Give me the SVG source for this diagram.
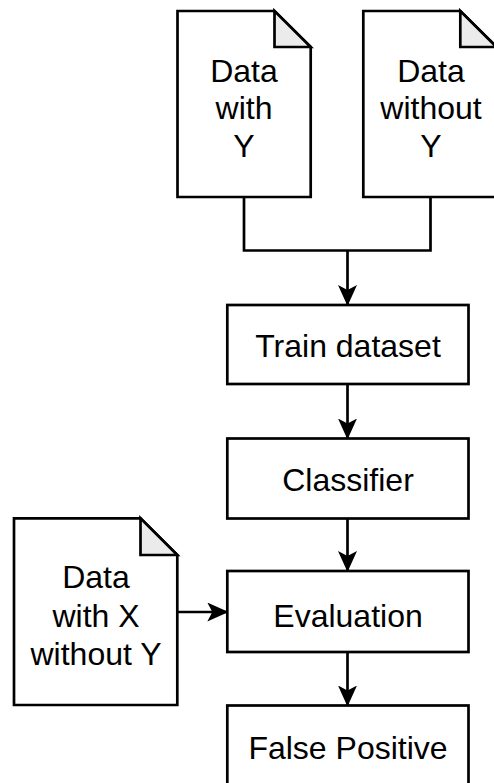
<svg xmlns="http://www.w3.org/2000/svg" width="494" height="783" viewBox="0 0 494 783">
  <style>
    .shape { fill: #ffffff; stroke: #000000; stroke-width: 2.7; stroke-linejoin: miter; }
    .fold { fill: #ebebeb; stroke: #000000; stroke-width: 2.7; stroke-linejoin: miter; }
    .edge { fill: none; stroke: #000000; stroke-width: 2.7; }
    .label { font-family: "Liberation Sans", Arial, Helvetica, sans-serif; font-size: 32px; fill: #000000; text-anchor: middle; }
  </style>
  <defs>
    <marker id="arrow" markerUnits="userSpaceOnUse" viewBox="0 0 21 19" refX="20" refY="9.5" markerWidth="21" markerHeight="19" orient="auto">
      <path d="M0,0 L21,9.5 L0,19 L5,9.5 Z" fill="#000000" stroke="none"/>
    </marker>
  </defs>
  <rect width="494" height="783" fill="#ffffff"/>

  <g id="connectors">
    <path class="edge" d="M244,197 V250.5 H430.5 V197"/>
    <path class="edge" d="M347.5,250.5 V305" marker-end="url(#arrow)"/>
    <path class="edge" d="M347.5,384 V438.5" marker-end="url(#arrow)"/>
    <path class="edge" d="M347.5,518.5 V571" marker-end="url(#arrow)"/>
    <path class="edge" d="M347.5,652 V705.5" marker-end="url(#arrow)"/>
    <path class="edge" d="M177.3,612 H227.3" marker-end="url(#arrow)"/>
  </g>

  <g id="data-with-y">
    <path class="shape" d="M177.5,11 H274.5 L310.7,47 V197 H177.5 Z"/>
    <path class="fold" d="M274.5,11 V47 H310.7 Z"/>
    <text class="label" x="244" y="81.5">Data</text>
    <text class="label" x="244" y="119">with</text>
    <text class="label" x="244" y="157">Y</text>
  </g>

  <g id="data-without-y">
    <path class="shape" d="M363.3,11 H460.3 L496.5,47 V197 H363.3 Z"/>
    <path class="fold" d="M460.3,11 V47 H496.5 Z"/>
    <text class="label" x="431" y="81.5">Data</text>
    <text class="label" x="431" y="119">without</text>
    <text class="label" x="431" y="157">Y</text>
  </g>

  <g id="train-dataset">
    <rect class="shape" x="227.3" y="305" width="241.2" height="79"/>
    <text class="label" x="348" y="357">Train dataset</text>
  </g>

  <g id="classifier">
    <rect class="shape" x="227.3" y="438.5" width="241.2" height="80"/>
    <text class="label" x="348" y="491">Classifier</text>
  </g>

  <g id="data-with-x-without-y">
    <path class="shape" d="M14,518.3 H140.5 L177.3,555 V705 H14 Z"/>
    <path class="fold" d="M140.5,518.3 V555 H177.3 Z"/>
    <text class="label" x="96" y="588">Data</text>
    <text class="label" x="96" y="627">with X</text>
    <text class="label" x="96" y="665">without Y</text>
  </g>

  <g id="evaluation">
    <rect class="shape" x="227.3" y="571" width="241.2" height="81"/>
    <text class="label" x="348" y="626.5">Evaluation</text>
  </g>

  <g id="false-positive">
    <rect class="shape" x="227.3" y="705.5" width="241.2" height="81"/>
    <text class="label" x="348" y="759">False Positive</text>
  </g>
</svg>
